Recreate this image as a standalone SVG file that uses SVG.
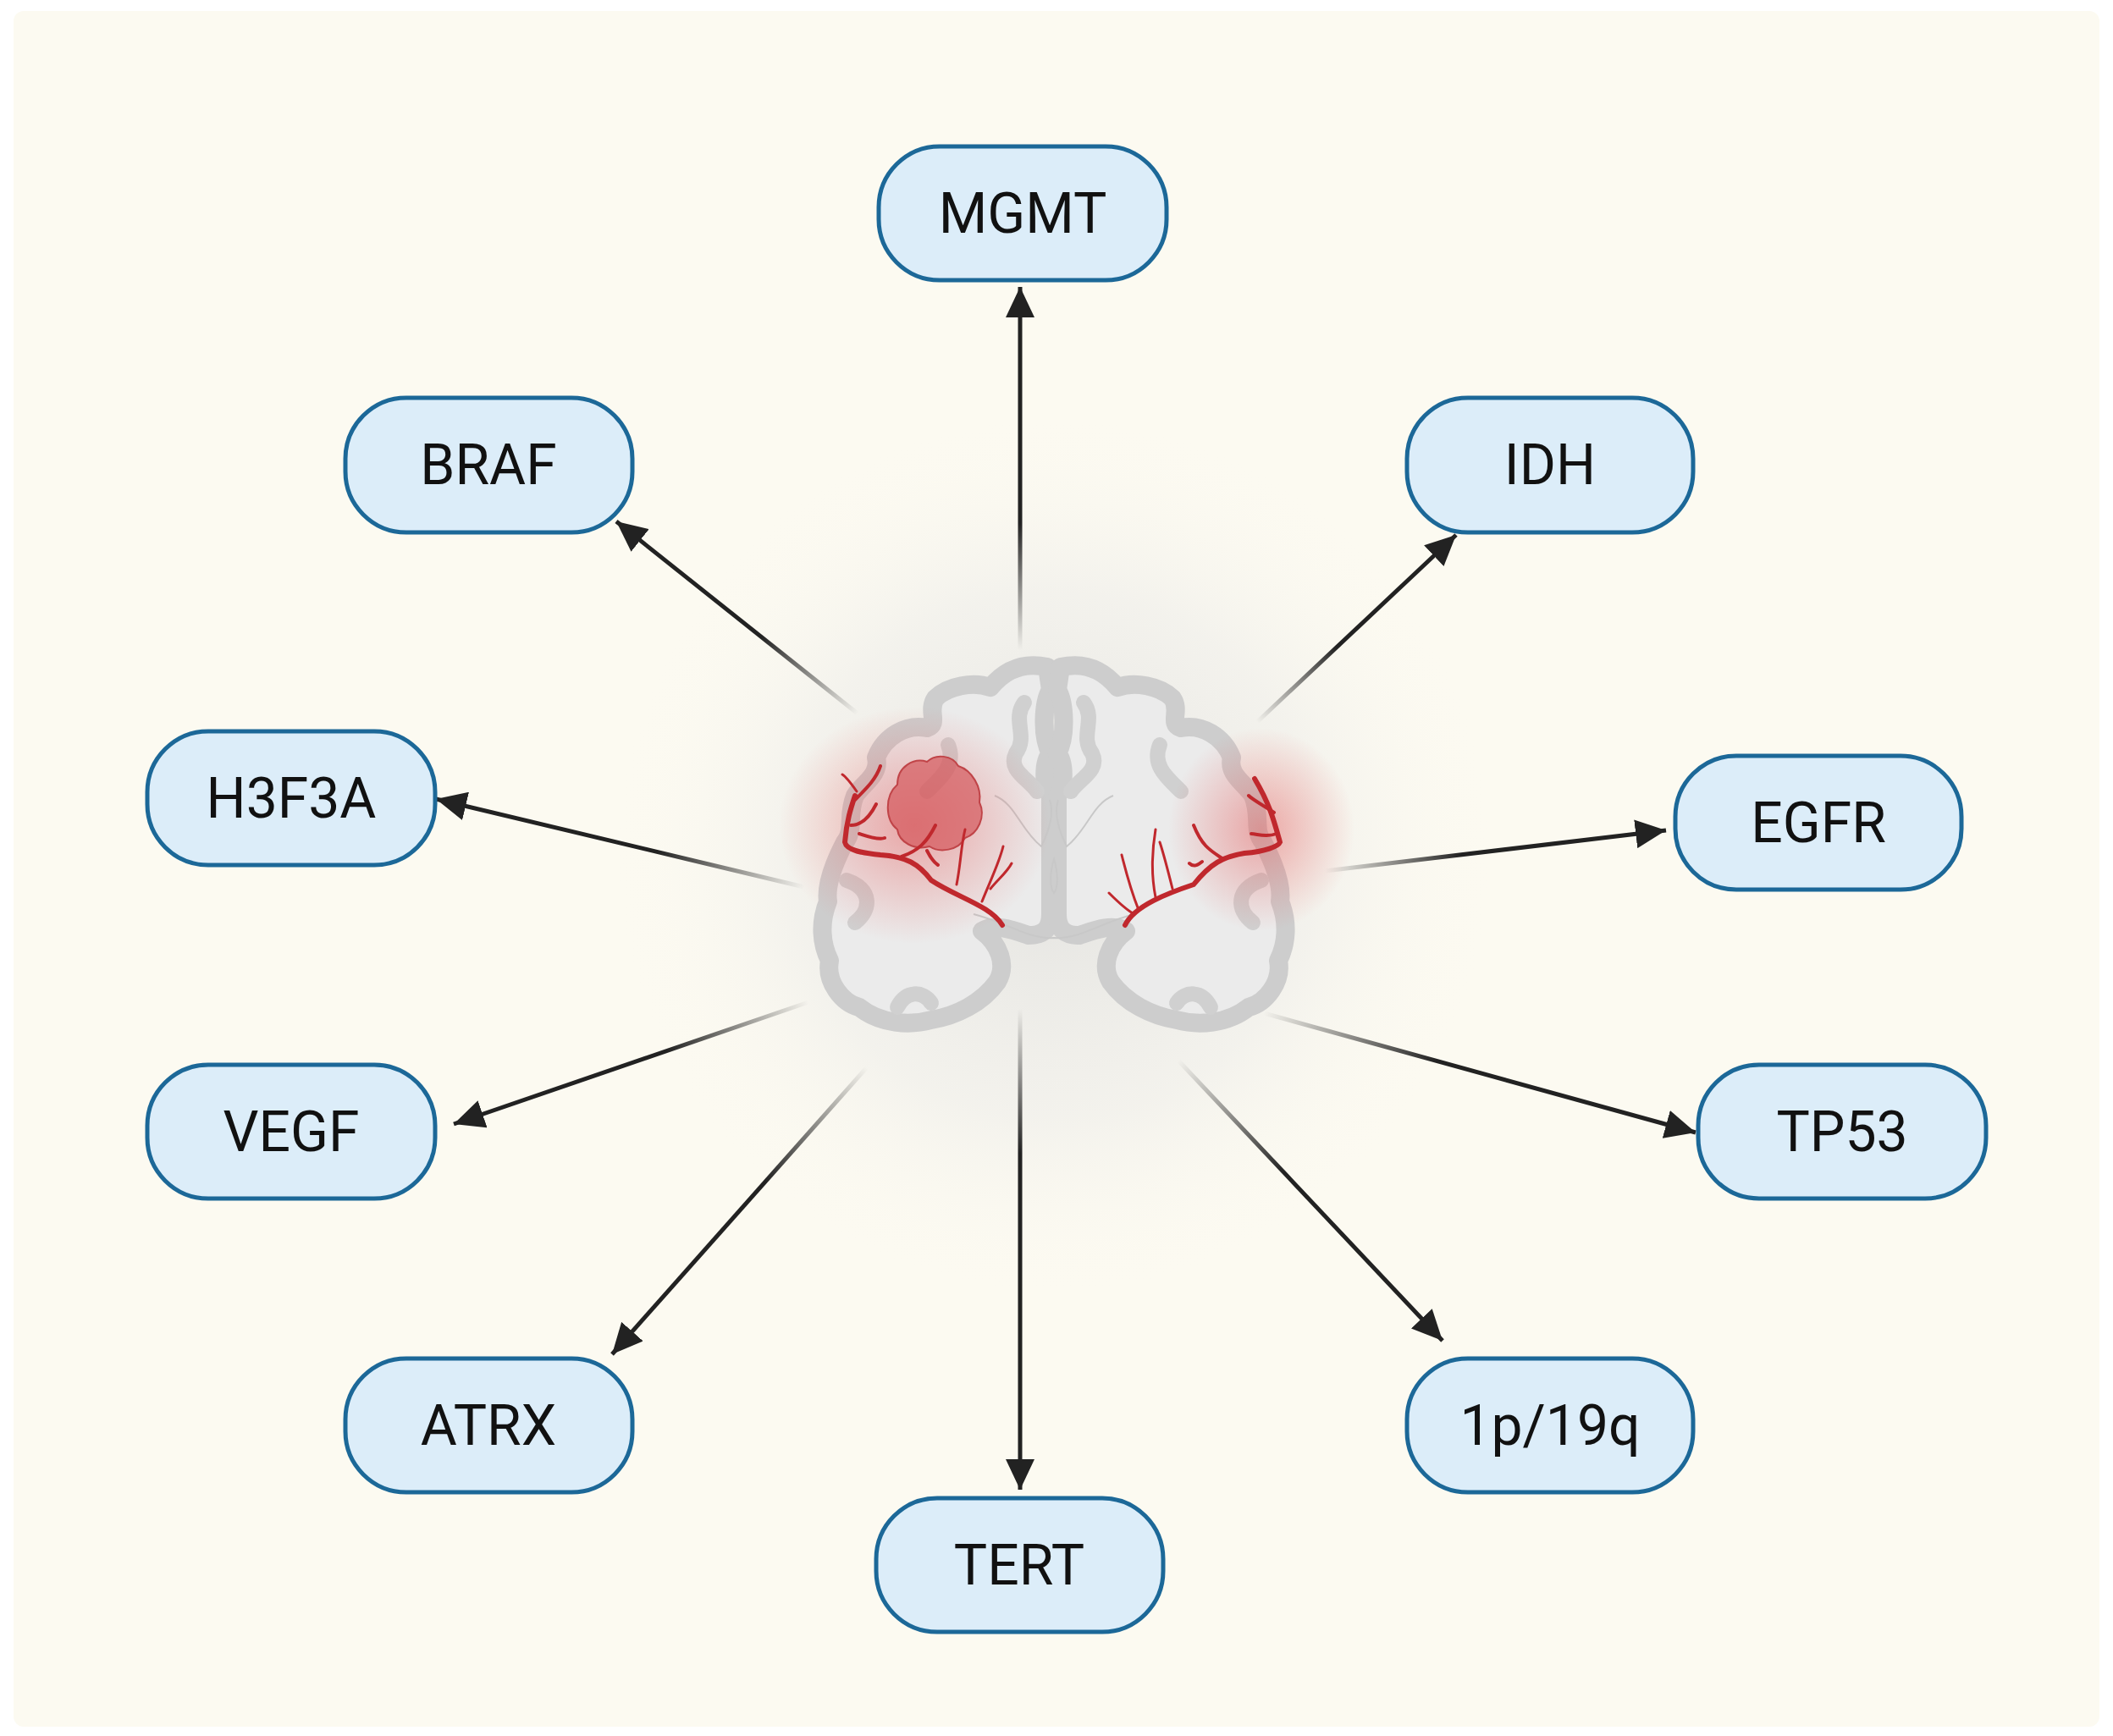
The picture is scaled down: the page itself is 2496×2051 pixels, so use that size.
<svg xmlns="http://www.w3.org/2000/svg" width="2496" height="2051" viewBox="0 0 2496 2051">
<style>
.node rect{fill:#dcedf9;stroke:#1c6898;stroke-width:5}
.node text{font-family:Roboto,"Liberation Sans",sans-serif;font-size:66px;font-weight:400;fill:#111111;text-anchor:middle;dominant-baseline:central}
.ln{stroke-width:5;fill:none;marker-end:url(#ah)}
.ves{stroke:#c0282d;fill:none;stroke-linecap:round}
</style>
<defs>
<marker id="ah" markerUnits="userSpaceOnUse" markerWidth="40" markerHeight="34" refX="36" refY="17" orient="auto"><path d="M0,0 L36,17 L0,34 Z" fill="#222"/></marker>
<radialGradient id="halo" cx="0.5" cy="0.5" r="0.5"><stop offset="0" stop-color="#d8d8d8" stop-opacity="0.7"/><stop offset="0.6" stop-color="#e6e6e6" stop-opacity="0.4"/><stop offset="1" stop-color="#fcfaf1" stop-opacity="0"/></radialGradient>
<radialGradient id="red" cx="0.5" cy="0.5" r="0.5"><stop offset="0" stop-color="#e65050" stop-opacity="0.45"/><stop offset="1" stop-color="#e65050" stop-opacity="0"/></radialGradient>
<linearGradient id="g1" gradientUnits="userSpaceOnUse" x1="1205" y1="768" x2="1205" y2="339"><stop offset="0" stop-color="#222" stop-opacity="0"/><stop offset="0.35" stop-color="#222"/></linearGradient>
<linearGradient id="g2" gradientUnits="userSpaceOnUse" x1="1013" y1="843" x2="728" y2="616"><stop offset="0" stop-color="#222" stop-opacity="0"/><stop offset="0.4" stop-color="#222"/></linearGradient>
<linearGradient id="g3" gradientUnits="userSpaceOnUse" x1="1485" y1="853" x2="1720" y2="632"><stop offset="0" stop-color="#222" stop-opacity="0"/><stop offset="0.4" stop-color="#222"/></linearGradient>
<linearGradient id="g4" gradientUnits="userSpaceOnUse" x1="950" y1="1048" x2="515" y2="944"><stop offset="0" stop-color="#222" stop-opacity="0"/><stop offset="0.4" stop-color="#222"/></linearGradient>
<linearGradient id="g5" gradientUnits="userSpaceOnUse" x1="1565" y1="1029" x2="1968" y2="981"><stop offset="0" stop-color="#222" stop-opacity="0"/><stop offset="0.4" stop-color="#222"/></linearGradient>
<linearGradient id="g6" gradientUnits="userSpaceOnUse" x1="955" y1="1184" x2="536" y2="1328"><stop offset="0" stop-color="#222" stop-opacity="0"/><stop offset="0.4" stop-color="#222"/></linearGradient>
<linearGradient id="g7" gradientUnits="userSpaceOnUse" x1="1493" y1="1197" x2="2003" y2="1338"><stop offset="0" stop-color="#222" stop-opacity="0"/><stop offset="0.4" stop-color="#222"/></linearGradient>
<linearGradient id="g8" gradientUnits="userSpaceOnUse" x1="1024" y1="1261" x2="723" y2="1600"><stop offset="0" stop-color="#222" stop-opacity="0"/><stop offset="0.4" stop-color="#222"/></linearGradient>
<linearGradient id="g9" gradientUnits="userSpaceOnUse" x1="1392" y1="1253" x2="1704" y2="1584"><stop offset="0" stop-color="#222" stop-opacity="0"/><stop offset="0.4" stop-color="#222"/></linearGradient>
<linearGradient id="g10" gradientUnits="userSpaceOnUse" x1="1205" y1="1192" x2="1205" y2="1760"><stop offset="0" stop-color="#222" stop-opacity="0"/><stop offset="0.3" stop-color="#222"/></linearGradient>
</defs>
<rect width="2496" height="2051" fill="#ffffff"/>
<rect x="16" y="13" width="2464" height="2027" rx="12" fill="#fcfaf1"/>
<circle cx="1245" cy="1010" r="520" fill="url(#halo)"/>

<g id="connectors">
<line class="ln" stroke="url(#g1)" x1="1205" y1="768" x2="1205" y2="339"/>
<line class="ln" stroke="url(#g2)" x1="1013" y1="843" x2="728" y2="616"/>
<line class="ln" stroke="url(#g3)" x1="1485" y1="853" x2="1720" y2="632"/>
<line class="ln" stroke="url(#g4)" x1="950" y1="1048" x2="515" y2="944"/>
<line class="ln" stroke="url(#g5)" x1="1565" y1="1029" x2="1968" y2="981"/>
<line class="ln" stroke="url(#g6)" x1="955" y1="1184" x2="536" y2="1328"/>
<line class="ln" stroke="url(#g7)" x1="1493" y1="1197" x2="2003" y2="1338"/>
<line class="ln" stroke="url(#g8)" x1="1024" y1="1261" x2="723" y2="1600"/>
<line class="ln" stroke="url(#g9)" x1="1392" y1="1253" x2="1704" y2="1584"/>
<line class="ln" stroke="url(#g10)" x1="1205" y1="1192" x2="1205" y2="1760"/>
</g>

<g id="brain">
<g fill="#ebebeb" stroke="#cdcdcd" stroke-width="22" stroke-linejoin="round">
<path d="M1237,788 C1200,780 1180,800 1170,812 C1150,805 1120,810 1105,825 C1095,840 1110,855 1095,860 C1070,855 1045,870 1035,895 C1040,915 1020,925 1010,940 C1000,965 1010,980 998,995 C985,1020 975,1045 978,1065 C968,1090 970,1115 980,1135 C975,1160 995,1185 1015,1190 C1040,1210 1075,1212 1100,1205 C1130,1200 1160,1185 1178,1160 C1190,1140 1180,1115 1160,1100 C1175,1090 1200,1100 1215,1105 C1230,1105 1241,1100 1241,1080 L1241,940 C1232,930 1232,900 1241,890 C1230,870 1232,830 1241,815 Z"/>
<path d="M1253,788 C1290,780 1310,800 1320,812 C1340,805 1370,810 1385,825 C1395,840 1380,855 1395,860 C1420,855 1445,870 1455,895 C1450,915 1470,925 1480,940 C1490,965 1480,980 1492,995 C1505,1020 1515,1045 1512,1065 C1522,1090 1520,1115 1510,1135 C1515,1160 1495,1185 1475,1190 C1450,1210 1415,1212 1390,1205 C1360,1200 1330,1185 1312,1160 C1300,1140 1310,1115 1330,1100 C1315,1090 1290,1100 1275,1105 C1260,1105 1249,1100 1249,1080 L1249,940 C1258,930 1258,900 1249,890 C1260,870 1258,830 1249,815 Z"/>
</g>
<g fill="none" stroke="#d0d0d0" stroke-width="18" stroke-linecap="round">
<path d="M1210,830 C1195,850 1215,870 1200,890 C1190,910 1215,920 1225,935"/>
<path d="M1280,830 C1295,850 1275,870 1290,890 C1300,910 1275,920 1265,935"/>
<path d="M1120,880 C1130,905 1110,920 1095,935"/>
<path d="M1370,880 C1360,905 1380,920 1395,935"/>
<path d="M1000,1040 C1030,1050 1030,1075 1010,1090"/>
<path d="M1490,1040 C1460,1050 1460,1075 1480,1090"/>
<path d="M1060,1190 C1070,1170 1090,1170 1100,1185"/>
<path d="M1430,1190 C1420,1170 1400,1170 1390,1185"/>
</g>
<g fill="none" stroke="#c8c8c8" stroke-width="2">
<path d="M1175,940 C1200,950 1205,980 1230,1000 C1240,980 1245,960 1240,945"/>
<path d="M1315,940 C1290,950 1285,980 1260,1000 C1250,980 1245,960 1250,945"/>
<path d="M1150,1080 C1190,1090 1215,1110 1245,1108 C1275,1110 1300,1090 1340,1080"/>
<path d="M1245,1015 C1240,1030 1240,1050 1245,1055 C1250,1050 1250,1030 1245,1015 Z"/>
</g>
<ellipse cx="1080" cy="975" rx="160" ry="140" fill="url(#red)"/>
<ellipse cx="1490" cy="980" rx="110" ry="120" fill="url(#red)"/>
<path d="M1060,927 C1060,905 1080,895 1095,900 C1105,890 1125,892 1132,905 C1148,910 1160,930 1157,948 C1165,965 1155,985 1140,990 C1132,1005 1110,1008 1098,1000 C1080,1005 1062,995 1060,980 C1045,968 1045,940 1060,927 Z" fill="#d4585c" fill-opacity="0.7" stroke="#c04448" stroke-width="2"/>
<g class="ves">
<path stroke-width="6" d="M1184,1093 C1170,1070 1130,1060 1100,1040 C1085,1020 1070,1012 1040,1010 C1020,1008 1000,1005 998,995 C1000,970 1005,955 1010,940"/>
<path stroke-width="4" d="M1065,1012 C1085,1005 1095,995 1105,975 M1095,1005 C1100,1015 1105,1020 1108,1022 M1010,945 C1025,930 1035,920 1040,905 M1005,975 C1020,975 1030,960 1035,950 M1015,985 C1030,990 1040,992 1045,990"/>
<path stroke-width="3" d="M1130,1045 C1135,1020 1135,1000 1140,980 M1160,1065 C1170,1040 1180,1020 1185,1000 M1170,1050 C1178,1040 1190,1030 1195,1020 M1012,935 C1005,925 1000,918 995,915"/>
<path stroke-width="6" d="M1329,1093 C1340,1070 1380,1055 1410,1045 C1430,1020 1445,1012 1470,1008 C1495,1006 1510,1000 1512,995 C1505,970 1500,950 1482,920"/>
<path stroke-width="4" d="M1445,1015 C1430,1005 1420,1000 1410,975 M1420,1018 C1415,1022 1410,1025 1405,1020 M1505,960 C1490,950 1480,945 1475,940 M1508,985 C1495,990 1485,985 1478,985"/>
<path stroke-width="3" d="M1365,1060 C1360,1035 1360,1010 1365,980 M1345,1075 C1335,1050 1330,1030 1325,1010 M1340,1080 C1330,1075 1320,1065 1310,1055 M1385,1050 C1380,1030 1375,1010 1370,995"/>
</g>
</g>

<g id="MGMT" class="node"><rect x="1038" y="173" width="340" height="158" rx="72"/><text x="1208" y="252">MGMT</text></g>
<g id="BRAF" class="node"><rect x="408" y="470" width="339" height="159" rx="72"/><text x="577" y="549">BRAF</text></g>
<g id="IDH" class="node"><rect x="1662" y="470" width="338" height="159" rx="72"/><text x="1831" y="549">IDH</text></g>
<g id="H3F3A" class="node"><rect x="174" y="864" width="340" height="158" rx="72"/><text x="344" y="943">H3F3A</text></g>
<g id="EGFR" class="node"><rect x="1979" y="893" width="338" height="158" rx="72"/><text x="2148" y="972">EGFR</text></g>
<g id="VEGF" class="node"><rect x="174" y="1258" width="340" height="158" rx="72"/><text x="344" y="1337">VEGF</text></g>
<g id="TP53" class="node"><rect x="2006" y="1258" width="340" height="158" rx="72"/><text x="2176" y="1337">TP53</text></g>
<g id="ATRX" class="node"><rect x="408" y="1605" width="339" height="158" rx="72"/><text x="577" y="1684">ATRX</text></g>
<g id="p19q" class="node"><rect x="1662" y="1605" width="338" height="158" rx="72"/><text x="1831" y="1684">1p/19q</text></g>
<g id="TERT" class="node"><rect x="1035" y="1770" width="339" height="158" rx="72"/><text x="1204" y="1849">TERT</text></g>
</svg>
